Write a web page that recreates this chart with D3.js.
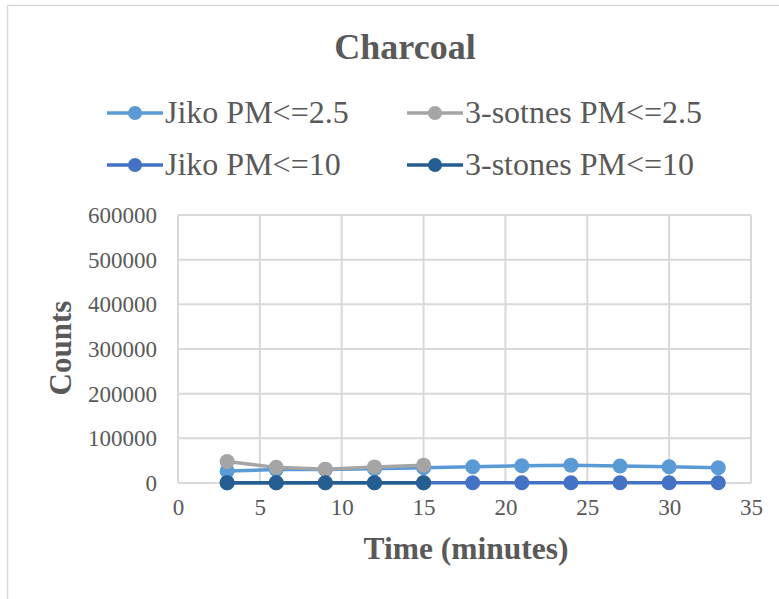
<!DOCTYPE html>
<html>
<head>
<meta charset="utf-8">
<script src="https://cdn.jsdelivr.net/npm/d3@7"></script>
<style>
	body { margin: 0; background: #fff; }
	text { font-family: "Liberation Serif", "Times New Roman", serif; fill: #595959; }
</style>
</head>
<body>
<svg id="chart" width="779" height="599"></svg>
<script>
// chart data
var times = [3, 6, 9, 12, 15, 18, 21, 24, 27, 30, 33];
var jiko25 = [27000, 30000, 30000, 32000, 34000, 36500, 38500, 40000, 38000, 36500, 34000];
var stones25 = [48000, 35000, 31000, 36000, 40000];
var jiko10 = [500, 500, 500, 500, 500, 500, 500, 500, 500, 500, 500];
var stones10 = [500, 500, 500, 500, 500];
var seriesNames = ["Jiko PM<=2.5", "3-sotnes PM<=2.5", "Jiko PM<=10", "3-stones PM<=10"];
var seriesColors = ["#5B9BD5", "#A5A5A5", "#4472C4", "#255E91"];
var xTicks = [0, 5, 10, 15, 20, 25, 30, 35];
var yTicks = [0, 100000, 200000, 300000, 400000, 500000, 600000];

var svg = d3.select("#chart");

// outer chart frame
svg.append("rect")
	.attr("x", 7.5).attr("y", 5.5)
	.attr("width", 800).attr("height", 620)
	.attr("fill", "none")
	.attr("stroke", "#D9D9D9")
	.attr("stroke-width", 1.5);

var plotLeft = 178, plotRight = 751, plotTop = 215, plotBottom = 483;

var x = d3.scaleLinear().domain([0, 35]).range([plotLeft, plotRight]);
var y = d3.scaleLinear().domain([0, 600000]).range([plotBottom, plotTop]);

// gridlines
svg.append("g").selectAll("line")
	.data(yTicks)
	.enter().append("line")
		.attr("x1", plotLeft).attr("x2", plotRight)
		.attr("y1", function(d) { return y(d); })
		.attr("y2", function(d) { return y(d); })
		.attr("stroke", "#D9D9D9").attr("stroke-width", 2);
svg.append("g").selectAll("line")
	.data(xTicks)
	.enter().append("line")
		.attr("x1", function(d) { return x(d); })
		.attr("x2", function(d) { return x(d); })
		.attr("y1", plotTop).attr("y2", plotBottom)
		.attr("stroke", "#D9D9D9").attr("stroke-width", 2);

// axis tick labels
var xAxis = svg.append("g")
	.attr("transform", "translate(0," + plotBottom + ")")
	.call(d3.axisBottom(x).tickValues(xTicks).tickSize(0).tickPadding(16));
xAxis.select(".domain").remove();
xAxis.selectAll("text").style("font-size", "23px").attr("fill", "#595959");

var yAxis = svg.append("g")
	.attr("transform", "translate(157,0)")
	.call(d3.axisLeft(y).tickValues(yTicks).tickSize(0).tickPadding(0).tickFormat(d3.format("d")));
yAxis.select(".domain").remove();
yAxis.selectAll("text").style("font-size", "23px").attr("fill", "#595959");

// series
var allSeries = [
	times.map(function(t, i) { return [t, jiko25[i]]; }),
	times.slice(0, stones25.length).map(function(t, i) { return [t, stones25[i]]; }),
	times.map(function(t, i) { return [t, jiko10[i]]; }),
	times.slice(0, stones10.length).map(function(t, i) { return [t, stones10[i]]; })
];
var line = d3.line()
	.x(function(d) { return x(d[0]); })
	.y(function(d) { return y(d[1]); });

var order = [0, 2, 1, 3];
order.forEach(function(k)
{
	var g = svg.append("g");
	g.append("path")
		.attr("d", line(allSeries[k]))
		.attr("fill", "none")
		.attr("stroke", seriesColors[k])
		.attr("stroke-width", 3.5);
	g.selectAll("circle")
		.data(allSeries[k])
		.enter().append("circle")
			.attr("cx", function(d) { return x(d[0]); })
			.attr("cy", function(d) { return y(d[1]); })
			.attr("r", 7.5)
			.attr("fill", seriesColors[k]);
});

// title
svg.append("text")
	.attr("x", 405).attr("y", 59)
	.attr("text-anchor", "middle")
	.style("font-size", "36px").style("font-weight", "bold")
	.text("Charcoal");

// legend
var legendPos = [[107, 113], [407, 113], [107, 165], [407, 165]];
seriesNames.forEach(function(name, i)
{
	var lx = legendPos[i][0], ly = legendPos[i][1];
	svg.append("line")
		.attr("x1", lx).attr("x2", lx + 56)
		.attr("y1", ly).attr("y2", ly)
		.attr("stroke", seriesColors[i]).attr("stroke-width", 3.5);
	svg.append("circle")
		.attr("cx", lx + 28).attr("cy", ly).attr("r", 7)
		.attr("fill", seriesColors[i]);
	svg.append("text")
		.attr("x", lx + 58).attr("y", ly + 10)
		.style("font-size", "32px")
		.text(name);
});

// axis titles
svg.append("text")
	.attr("x", 466).attr("y", 559)
	.attr("text-anchor", "middle")
	.style("font-size", "31.5px").style("font-weight", "bold")
	.text("Time (minutes)");
svg.append("text")
	.attr("transform", "translate(71,348) rotate(-90)")
	.attr("text-anchor", "middle")
	.style("font-size", "31px").style("font-weight", "bold")
	.text("Counts");
</script>
</body>
</html>
